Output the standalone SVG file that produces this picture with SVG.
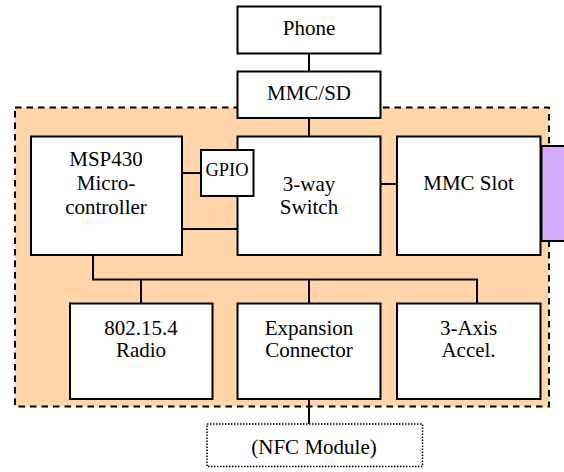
<svg xmlns="http://www.w3.org/2000/svg" width="564" height="472" viewBox="0 0 564 472">
  <style>
    .box { fill: #ffffff; stroke: #000000; stroke-width: 2; }
    .wire { fill: none; stroke: #000000; stroke-width: 2; }
    text { font-family: 'Liberation Serif', serif; font-size: 21px; fill: #000000; text-anchor: middle; }
    .small { font-size: 18.5px; }
  </style>
  <rect width="564" height="472" fill="#ffffff"/>

  <!-- board outline -->
  <g id="board">
    <rect x="15" y="107.5" width="534" height="299" fill="#ffd5a9" stroke="#000000" stroke-width="2" stroke-dasharray="6.5 5"/>
  </g>

  <!-- card edge contact -->
  <g id="card-edge">
    <rect x="541.5" y="146" width="30" height="95" fill="#d5aafd" stroke="#000000" stroke-width="2"/>
  </g>

  <!-- links between blocks -->
  <g id="connectors">
    <line class="wire" x1="309" y1="54" x2="309" y2="71"/>
    <line class="wire" x1="309" y1="118" x2="309" y2="136"/>
    <line class="wire" x1="182" y1="173" x2="201" y2="173"/>
    <line class="wire" x1="182" y1="229" x2="237" y2="229"/>
    <line class="wire" x1="381" y1="184" x2="396" y2="184"/>
    <polyline class="wire" points="93,255 93,279.5 477,279.5 477,303"/>
    <line class="wire" x1="141" y1="279.5" x2="141" y2="303"/>
    <line class="wire" x1="309" y1="279.5" x2="309" y2="303"/>
    <line class="wire" x1="309" y1="399" x2="309" y2="424"/>
  </g>

  <g id="phone">
    <rect class="box" x="237.5" y="6.5" width="143" height="47"/>
    <text x="309" y="35">Phone</text>
  </g>

  <g id="mmc-sd">
    <rect class="box" x="237.5" y="71.5" width="143" height="46.5"/>
    <text x="309" y="100">MMC/SD</text>
  </g>

  <g id="msp430">
    <rect class="box" x="31" y="136.5" width="151" height="118.5"/>
    <text x="106" y="166">MSP430</text>
    <text x="106" y="190">Micro-</text>
    <text x="106" y="213.5">controller</text>
  </g>

  <g id="switch">
    <rect class="box" x="237.5" y="136.5" width="143" height="118.5"/>
    <text x="309" y="191">3-way</text>
    <text x="309" y="213.5">Switch</text>
  </g>

  <g id="gpio">
    <rect class="box" x="201" y="150" width="52.5" height="46"/>
    <text class="small" x="227" y="176">GPIO</text>
  </g>

  <g id="mmc-slot">
    <rect class="box" x="397" y="136.5" width="143.5" height="118.5"/>
    <text x="468.5" y="190">MMC Slot</text>
  </g>

  <g id="radio">
    <rect class="box" x="70" y="303.5" width="142.5" height="95.5"/>
    <text x="141" y="334.5">802.15.4</text>
    <text x="141" y="357">Radio</text>
  </g>

  <g id="expansion">
    <rect class="box" x="237.5" y="303.5" width="143" height="95.5"/>
    <text x="309" y="334.5">Expansion</text>
    <text x="309" y="357">Connector</text>
  </g>

  <g id="accel">
    <rect class="box" x="397" y="303.5" width="143.5" height="95.5"/>
    <text x="468.5" y="334.5">3-Axis</text>
    <text x="468.5" y="357">Accel.</text>
  </g>

  <g id="nfc">
    <rect x="207" y="424" width="215.5" height="42.5" fill="#ffffff" stroke="#000000" stroke-width="1.5" stroke-dasharray="1.5 1.5"/>
    <text x="314" y="454">(NFC Module)</text>
  </g>
</svg>
